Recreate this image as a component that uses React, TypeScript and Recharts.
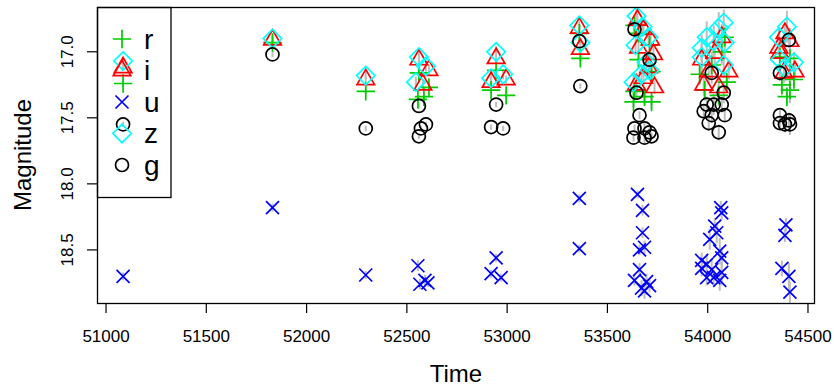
import React from 'react';
import { ScatterChart, Scatter, XAxis, YAxis, ErrorBar } from 'recharts';

type Obs = { t: number; m: number; e: number };

// light curves per band, time (MJD) / magnitude / error
const rBand: Obs[] = [
  { t: 51085, m: 17.24, e: 0.02 },
  { t: 51830, m: 16.93, e: 0.02 },
  { t: 52295, m: 17.3, e: 0.02 },
  { t: 52560, m: 17.16, e: 0.03 },
  { t: 52610, m: 17.27, e: 0.03 },
  { t: 52585, m: 17.34, e: 0.03 },
  { t: 52555, m: 17.36, e: 0.03 },
  { t: 52945, m: 17.14, e: 0.03 },
  { t: 52920, m: 17.29, e: 0.03 },
  { t: 52995, m: 17.33, e: 0.03 },
  { t: 53360, m: 16.86, e: 0.02 },
  { t: 53365, m: 17.05, e: 0.02 },
  { t: 53635, m: 16.8, e: 0.04 },
  { t: 53655, m: 16.86, e: 0.04 },
  { t: 53710, m: 16.95, e: 0.04 },
  { t: 53655, m: 17.06, e: 0.05 },
  { t: 53720, m: 17.15, e: 0.05 },
  { t: 53635, m: 17.3, e: 0.05 },
  { t: 53685, m: 17.34, e: 0.06 },
  { t: 53720, m: 17.38, e: 0.05 },
  { t: 53630, m: 17.38, e: 0.04 },
  { t: 53960, m: 17.17, e: 0.08 },
  { t: 53985, m: 17.29, e: 0.08 },
  { t: 54095, m: 17.23, e: 0.06 },
  { t: 54085, m: 16.89, e: 0.08 },
  { t: 54020, m: 17.1, e: 0.1 },
  { t: 54055, m: 17.33, e: 0.08 },
  { t: 54070, m: 17.0, e: 0.1 },
  { t: 54360, m: 17.04, e: 0.06 },
  { t: 54410, m: 17.05, e: 0.08 },
  { t: 54370, m: 17.25, e: 0.08 },
  { t: 54410, m: 17.29, e: 0.1 },
  { t: 54395, m: 17.34, e: 0.06 },
  { t: 54430, m: 17.21, e: 0.06 },
];

const iBand: Obs[] = [
  { t: 51085, m: 17.12, e: 0.02 },
  { t: 51830, m: 16.91, e: 0.02 },
  { t: 52295, m: 17.21, e: 0.02 },
  { t: 52560, m: 17.06, e: 0.03 },
  { t: 52610, m: 17.14, e: 0.04 },
  { t: 52580, m: 17.25, e: 0.04 },
  { t: 52945, m: 17.05, e: 0.03 },
  { t: 52920, m: 17.23, e: 0.03 },
  { t: 52995, m: 17.21, e: 0.03 },
  { t: 53360, m: 16.82, e: 0.02 },
  { t: 53365, m: 16.98, e: 0.02 },
  { t: 53650, m: 16.76, e: 0.05 },
  { t: 53680, m: 16.83, e: 0.05 },
  { t: 53715, m: 16.91, e: 0.05 },
  { t: 53655, m: 16.97, e: 0.05 },
  { t: 53730, m: 17.02, e: 0.05 },
  { t: 53705, m: 17.12, e: 0.06 },
  { t: 53645, m: 17.25, e: 0.05 },
  { t: 53735, m: 17.27, e: 0.05 },
  { t: 53680, m: 17.2, e: 0.06 },
  { t: 53970, m: 17.06, e: 0.1 },
  { t: 53980, m: 17.25, e: 0.08 },
  { t: 54035, m: 17.01, e: 0.1 },
  { t: 54105, m: 17.15, e: 0.06 },
  { t: 54070, m: 16.89, e: 0.1 },
  { t: 54005, m: 17.15, e: 0.1 },
  { t: 54055, m: 17.27, e: 0.08 },
  { t: 54385, m: 16.86, e: 0.08 },
  { t: 54410, m: 16.92, e: 0.1 },
  { t: 54355, m: 16.97, e: 0.06 },
  { t: 54435, m: 17.15, e: 0.06 },
  { t: 54380, m: 17.16, e: 0.08 },
  { t: 54360, m: 17.01, e: 0.06 },
];

const uBand: Obs[] = [
  { t: 51085, m: 18.7, e: 0.03 },
  { t: 51830, m: 18.18, e: 0.03 },
  { t: 52295, m: 18.69, e: 0.03 },
  { t: 52555, m: 18.62, e: 0.04 },
  { t: 52565, m: 18.76, e: 0.04 },
  { t: 52590, m: 18.73, e: 0.04 },
  { t: 52605, m: 18.75, e: 0.03 },
  { t: 52945, m: 18.56, e: 0.03 },
  { t: 52920, m: 18.68, e: 0.03 },
  { t: 52970, m: 18.71, e: 0.03 },
  { t: 53360, m: 18.11, e: 0.03 },
  { t: 53360, m: 18.49, e: 0.03 },
  { t: 53650, m: 18.08, e: 0.03 },
  { t: 53675, m: 18.2, e: 0.04 },
  { t: 53675, m: 18.37, e: 0.04 },
  { t: 53685, m: 18.48, e: 0.05 },
  { t: 53660, m: 18.5, e: 0.04 },
  { t: 53660, m: 18.65, e: 0.05 },
  { t: 53635, m: 18.73, e: 0.04 },
  { t: 53695, m: 18.74, e: 0.06 },
  { t: 53710, m: 18.77, e: 0.05 },
  { t: 53685, m: 18.81, e: 0.06 },
  { t: 53670, m: 18.79, e: 0.06 },
  { t: 54065, m: 18.18, e: 0.05 },
  { t: 54070, m: 18.22, e: 0.05 },
  { t: 54035, m: 18.32, e: 0.06 },
  { t: 54010, m: 18.42, e: 0.08 },
  { t: 54045, m: 18.37, e: 0.08 },
  { t: 54060, m: 18.51, e: 0.1 },
  { t: 54070, m: 18.56, e: 0.08 },
  { t: 53970, m: 18.58, e: 0.06 },
  { t: 53995, m: 18.61, e: 0.08 },
  { t: 53970, m: 18.64, e: 0.06 },
  { t: 54020, m: 18.65, e: 0.08 },
  { t: 54070, m: 18.67, e: 0.1 },
  { t: 54030, m: 18.71, e: 0.06 },
  { t: 53995, m: 18.71, e: 0.06 },
  { t: 54060, m: 18.73, e: 0.08 },
  { t: 54390, m: 18.31, e: 0.05 },
  { t: 54385, m: 18.39, e: 0.05 },
  { t: 54370, m: 18.64, e: 0.06 },
  { t: 54405, m: 18.7, e: 0.1 },
  { t: 54410, m: 18.82, e: 0.08 },
];

const zBand: Obs[] = [
  { t: 51085, m: 17.07, e: 0.03 },
  { t: 51830, m: 16.9, e: 0.03 },
  { t: 52295, m: 17.18, e: 0.03 },
  { t: 52560, m: 17.04, e: 0.04 },
  { t: 52595, m: 17.11, e: 0.04 },
  { t: 52545, m: 17.23, e: 0.04 },
  { t: 52945, m: 17.0, e: 0.04 },
  { t: 52920, m: 17.2, e: 0.04 },
  { t: 52980, m: 17.17, e: 0.04 },
  { t: 53360, m: 16.8, e: 0.03 },
  { t: 53365, m: 16.93, e: 0.03 },
  { t: 53645, m: 16.73, e: 0.06 },
  { t: 53675, m: 16.81, e: 0.06 },
  { t: 53705, m: 16.89, e: 0.06 },
  { t: 53640, m: 16.95, e: 0.06 },
  { t: 53695, m: 17.08, e: 0.06 },
  { t: 53710, m: 17.14, e: 0.06 },
  { t: 53630, m: 17.23, e: 0.06 },
  { t: 53670, m: 17.17, e: 0.06 },
  { t: 53970, m: 16.97, e: 0.1 },
  { t: 53995, m: 16.89, e: 0.12 },
  { t: 54055, m: 16.82, e: 0.12 },
  { t: 54080, m: 16.78, e: 0.1 },
  { t: 54030, m: 16.92, e: 0.12 },
  { t: 54085, m: 16.93, e: 0.1 },
  { t: 54080, m: 17.1, e: 0.1 },
  { t: 53970, m: 17.04, e: 0.1 },
  { t: 54395, m: 16.81, e: 0.12 },
  { t: 54355, m: 16.89, e: 0.08 },
  { t: 54430, m: 17.08, e: 0.08 },
  { t: 54360, m: 17.06, e: 0.08 },
  { t: 54385, m: 17.12, e: 0.1 },
];

const gBand: Obs[] = [
  { t: 51085, m: 17.55, e: 0.02 },
  { t: 51830, m: 17.02, e: 0.02 },
  { t: 52295, m: 17.58, e: 0.02 },
  { t: 52560, m: 17.41, e: 0.02 },
  { t: 52595, m: 17.55, e: 0.02 },
  { t: 52570, m: 17.58, e: 0.02 },
  { t: 52560, m: 17.64, e: 0.02 },
  { t: 52945, m: 17.4, e: 0.02 },
  { t: 52920, m: 17.57, e: 0.02 },
  { t: 52980, m: 17.58, e: 0.02 },
  { t: 53360, m: 16.92, e: 0.02 },
  { t: 53365, m: 17.26, e: 0.02 },
  { t: 53635, m: 16.83, e: 0.04 },
  { t: 53710, m: 17.06, e: 0.04 },
  { t: 53645, m: 17.31, e: 0.04 },
  { t: 53660, m: 17.48, e: 0.03 },
  { t: 53635, m: 17.58, e: 0.03 },
  { t: 53685, m: 17.58, e: 0.04 },
  { t: 53710, m: 17.61, e: 0.04 },
  { t: 53630, m: 17.65, e: 0.03 },
  { t: 53685, m: 17.65, e: 0.04 },
  { t: 53720, m: 17.64, e: 0.03 },
  { t: 54020, m: 17.16, e: 0.08 },
  { t: 54080, m: 17.31, e: 0.08 },
  { t: 53995, m: 17.4, e: 0.06 },
  { t: 54030, m: 17.4, e: 0.08 },
  { t: 54070, m: 17.4, e: 0.06 },
  { t: 53980, m: 17.45, e: 0.05 },
  { t: 54020, m: 17.48, e: 0.06 },
  { t: 54085, m: 17.48, e: 0.05 },
  { t: 54005, m: 17.54, e: 0.06 },
  { t: 54055, m: 17.61, e: 0.06 },
  { t: 54405, m: 16.91, e: 0.06 },
  { t: 54360, m: 17.16, e: 0.06 },
  { t: 54360, m: 17.48, e: 0.04 },
  { t: 54360, m: 17.54, e: 0.04 },
  { t: 54385, m: 17.55, e: 0.06 },
  { t: 54410, m: 17.55, e: 0.08 },
  { t: 54405, m: 17.52, e: 0.06 },
];

const timeTicks = [51000, 51500, 52000, 52500, 53000, 53500, 54000, 54500];
const magTicks = [17, 17.5, 18, 18.5];
const legendLabels = ['r', 'i', 'u', 'z', 'g'];

const FONT = '"Liberation Sans", Arial, Helvetica, sans-serif';
const SZ = 6.5; // R symbol radius
const LW = 1.7;

const COLORS: Record<string, string> = {
  r: '#00CD00',
  i: '#FF0000',
  u: '#0000FF',
  z: '#00FFFF',
  g: '#000000',
};

function drawSymbol(band: string, cx: number, cy: number, key?: string) {
  const c = COLORS[band];
  const common = { stroke: c, strokeWidth: LW, fill: 'none' };
  if (band === 'r') {
    const h = SZ * Math.SQRT2;
    return <path key={key} d={`M${cx - h} ${cy}H${cx + h}M${cx} ${cy - h}V${cy + h}`} {...common} />;
  }
  if (band === 'i') {
    const r = 1.555 * SZ;
    const xc = 1.347 * SZ;
    const yc = 0.778 * SZ;
    return <path key={key} d={`M${cx} ${cy - r}L${cx + xc} ${cy + yc}L${cx - xc} ${cy + yc}Z`} {...common} />;
  }
  if (band === 'u') {
    const h = SZ;
    return <path key={key} d={`M${cx - h} ${cy - h}L${cx + h} ${cy + h}M${cx - h} ${cy + h}L${cx + h} ${cy - h}`} {...common} />;
  }
  if (band === 'z') {
    const h = SZ * Math.SQRT2;
    return <path key={key} d={`M${cx} ${cy - h}L${cx + h} ${cy}L${cx} ${cy + h}L${cx - h} ${cy}Z`} {...common} />;
  }
  return <circle key={key} cx={cx} cy={cy} r={SZ} {...common} />;
}

const shapeFor = (band: string) => (p: any) => drawSymbol(band, p.cx, p.cy);
const noShape = () => <g />;

const XTick = (p: any) => (
  <text x={p.x} y={p.y + 29} textAnchor="middle" fontSize={17} fontFamily={FONT} fill="#000">
    {p.payload.value}
  </text>
);

const YTick = (p: any) => {
  const x = p.x - 14;
  return (
    <text
      x={x}
      y={p.y}
      transform={`rotate(-90 ${x} ${p.y})`}
      textAnchor="middle"
      fontSize={17}
      fontFamily={FONT}
      fill="#000"
    >
      {p.payload.value.toFixed(1)}
    </text>
  );
};

export default function App() {
  const bands: [string, Obs[]][] = [
    ['r', rBand],
    ['i', iBand],
    ['u', uBand],
    ['z', zBand],
    ['g', gBand],
  ];
  const legendY = [39, 70.5, 102, 133.5, 165];

  return (
    <div style={{ position: 'absolute', left: 0, top: 0, width: 834, height: 386, background: '#fff' }}>
      <ScatterChart width={834} height={386} margin={{ top: 7, right: 19, bottom: 0, left: 0 }}>
        <XAxis
          type="number"
          dataKey="t"
          domain={[50955, 54535]}
          ticks={timeTicks}
          allowDataOverflow
          axisLine={false}
          tickLine={{ stroke: '#000', strokeWidth: 1.2 }}
          tickSize={10}
          tickMargin={0}
          height={83}
          tick={<XTick />}
        />
        <YAxis
          type="number"
          dataKey="m"
          reversed
          domain={[16.661, 18.902]}
          ticks={magTicks}
          allowDataOverflow
          axisLine={false}
          tickLine={{ stroke: '#000', strokeWidth: 1.2 }}
          tickSize={10}
          tickMargin={0}
          width={97}
          tick={<YTick />}
        />
        {bands.map(([b, d]) => (
          <Scatter key={b} name={b} data={d} shape={shapeFor(b)} isAnimationActive={false} />
        ))}
        {/* grey error bars drawn over the symbols */}
        {bands.map(([b, d]) => (
          <Scatter key={`err-${b}`} data={d} shape={noShape} isAnimationActive={false}>
            <ErrorBar dataKey="e" direction="y" width={0} stroke="#BEBEBE" strokeWidth={2} />
          </Scatter>
        ))}
      </ScatterChart>
      <svg
        width={834}
        height={386}
        style={{ position: 'absolute', left: 0, top: 0, pointerEvents: 'none' }}
      >
        <rect x={97.5} y={7.5} width={717} height={296} fill="none" stroke="#000" strokeWidth={1.3} />
        <rect x={97.5} y={7.5} width={73.5} height={190} fill="none" stroke="#000" strokeWidth={1.3} />
        {legendLabels.map((b, k) => (
          <g key={b}>
            {drawSymbol(b, 122, legendY[k])}
            <text x={144} y={legendY[k] + 9.5} fontSize={28} fontFamily={FONT} fill="#000">
              {b}
            </text>
          </g>
        ))}
        <text x={456} y={382} textAnchor="middle" fontSize={24} fontFamily={FONT} fill="#000">
          Time
        </text>
        <text
          x={31}
          y={155}
          transform="rotate(-90 31 155)"
          textAnchor="middle"
          fontSize={24}
          fontFamily={FONT}
          fill="#000"
        >
          Magnitude
        </text>
      </svg>
    </div>
  );
}
